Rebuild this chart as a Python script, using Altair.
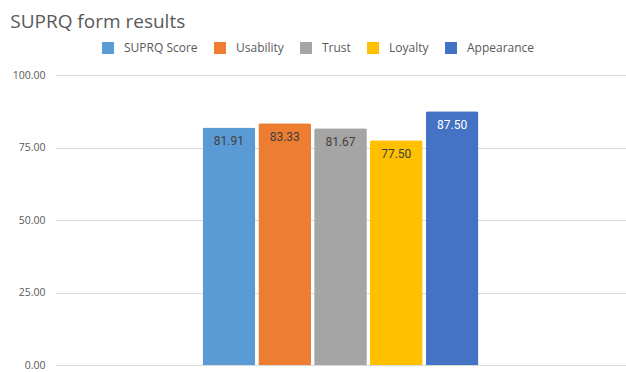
import altair as alt
import pandas as pd

series = ["SUPRQ Score", "Usability", "Trust", "Loyalty", "Appearance"]
values = [81.91, 83.33, 81.67, 77.50, 87.50]
colors = ["#5B9BD5", "#ED7D31", "#A5A5A5", "#FFC000", "#4472C4"]
label_colors = ["#404040", "#404040", "#404040", "#404040", "#FFFFFF"]
y_ticks = [0, 25, 50, 75, 100]

df = pd.DataFrame({
    "group": ["SUPRQ form results"] * len(series),
    "series": series,
    "value": values,
    "lc": label_colors,
})

x = alt.X("group:N", axis=None,
          scale=alt.Scale(paddingInner=0, paddingOuter=0.535))
xo = alt.XOffset("series:N", sort=series,
                 scale=alt.Scale(paddingInner=0.055, paddingOuter=0))

bars = alt.Chart(df).mark_bar(cornerRadiusTopLeft=2, cornerRadiusTopRight=2).encode(
    x=x,
    xOffset=xo,
    y=alt.Y("value:Q",
            scale=alt.Scale(domain=[0, 100], nice=False),
            axis=alt.Axis(values=y_ticks, format=".2f", title=None,
                          domain=False, ticks=False, labelPadding=10,
                          labelFont="Open Sans", labelFontSize=10.5,
                          labelColor="#595959", gridColor="#D9D9D9")),
    color=alt.Color("series:N", sort=series,
                    scale=alt.Scale(domain=series, range=colors),
                    legend=alt.Legend(orient="none", direction="horizontal",
                                      legendX=47, legendY=-33, title=None,
                                      symbolType="square", symbolSize=144,
                                      symbolStrokeWidth=0, symbolOpacity=1,
                                      labelFont="Open Sans", labelFontSize=12,
                                      labelColor="#595959", labelOffset=10,
                                      columnPadding=16)),
)

labels = alt.Chart(df).mark_text(font="Roboto", fontSize=12, dy=14, baseline="middle").encode(
    x=x,
    xOffset=xo,
    y="value:Q",
    text=alt.Text("value:Q", format=".2f"),
    color=alt.Color("lc:N", scale=None),
)

chart = (bars + labels).properties(
    width=571, height=290,
    padding={"left": 55, "top": 75, "right": 0, "bottom": 7},
    autosize=alt.AutoSizeParams(type="none"),
    title=alt.TitleParams("SUPRQ form results", anchor="start", font="Open Sans",
                          fontSize=19, fontWeight="normal", color="#595959",
                          dx=-2, offset=10),
).configure_view(stroke=None).configure_axisY(
    gridColor="#D9D9D9"
)

chart.save("out.html", embed_options={"renderer": "svg", "actions": False})
